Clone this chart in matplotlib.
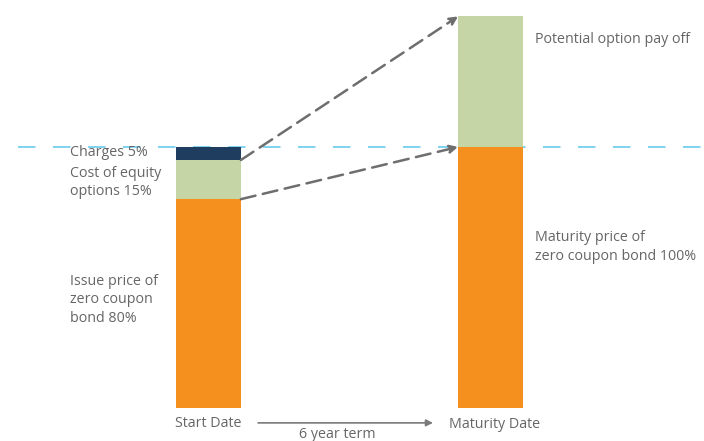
import matplotlib.pyplot as plt
from matplotlib.patches import FancyArrowPatch

plt.rcParams['font.family'] = ['Open Sans', 'DejaVu Sans']

# stacked bar data (% of issue)
dates = ['Start Date', 'Maturity Date']
bond = [80, 100]
options = [15, 50]
charges = [5, 0]
term_label = '6 year term'

orange = '#f5901f'
green = '#c6d5a6'
navy = '#1f3d5e'
grey_txt = '#666666'

fig = plt.figure(figsize=(7.04, 4.41), dpi=100)
ax = fig.add_axes([0, 0, 1, 1])
ax.set_xlim(-0.739, 1.757)
ax.set_ylim(-12.64, 156.3)
ax.axis('off')

x = [0, 1]
w = 0.23
ax.bar(x, bond, w, color=orange, zorder=2)
ax.bar(x, options, w, bottom=bond, color=green, zorder=2)
bot2 = [b + o for b, o in zip(bond, options)]
ax.bar(x, charges, w, bottom=bot2, color=navy, zorder=2)

# reference line at 100%
ax.plot([-0.676, 1.757], [100, 100], color='#7fd2ef', lw=1.4,
        dashes=(9, 9), zorder=1)

# dashed arrows from start bar to maturity bar
arrow_kw = dict(arrowstyle='-|>', mutation_scale=12, color='#6e6e6e',
                lw=1.8, linestyle=(0, (6, 3)), zorder=3)
ax.add_patch(FancyArrowPatch((w / 2, bot2[0]), (1 - w / 2, bot2[1]),
                             shrinkA=0, shrinkB=0, **arrow_kw))
ax.add_patch(FancyArrowPatch((w / 2, bond[0]), (1 - w / 2, bond[1]),
                             shrinkA=0, shrinkB=0, **arrow_kw))

fs = 10.3
tk = dict(color=grey_txt, fontsize=fs, linespacing=1.32)
ax.text(-0.491, 97.8, 'Charges 5%', va='center', ha='left', **tk)
ax.text(-0.491, 86.4, 'Cost of equity\noptions 15%', va='center', ha='left', **tk)
ax.text(-0.491, 41.4, 'Issue price of\nzero coupon\nbond 80%', va='center', ha='left', **tk)
ax.text(1.158, 141, 'Potential option pay off', va='center', ha='left', **tk)
ax.text(1.158, 61.7, 'Maturity price of\nzero coupon bond 100%', va='center', ha='left', **tk)

ax.text(x[0], -5.9, dates[0], ha='center', va='center', **tk)
ax.text(x[1] + 0.016, -6.5, dates[1], ha='center', va='center', **tk)
ax.text(0.456, -10.2, term_label, ha='center', va='center', **tk)
ax.annotate('', xy=(0.796, -5.7), xytext=(0.176, -5.7),
            arrowprops=dict(arrowstyle='-|>', color='#7a7a7a', lw=1.2,
                            mutation_scale=10, shrinkA=0, shrinkB=0))

fig.savefig('out.png', dpi=100)
